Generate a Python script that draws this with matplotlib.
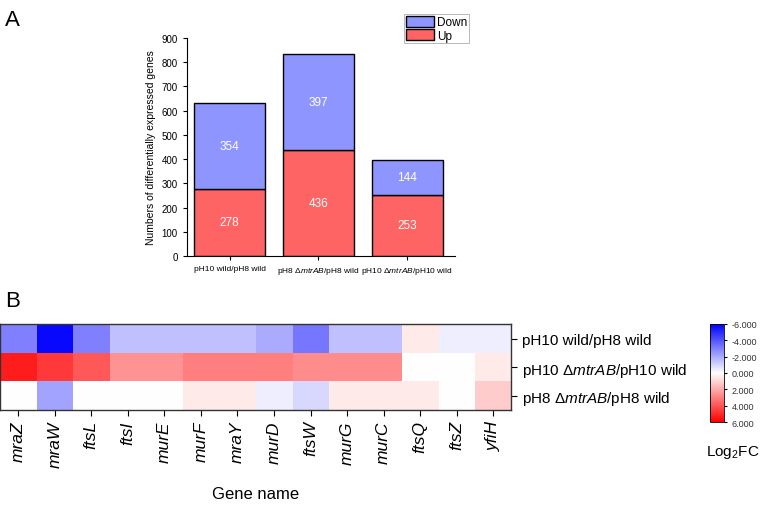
import numpy as np
import matplotlib.pyplot as plt

# Panel A data
comparisons = ['pH10 wild/pH8 wild',
               r'pH8 $\Delta\it{mtrAB}$/pH8 wild',
               r'pH10 $\Delta\it{mtrAB}$/pH10 wild']
up_counts = [278, 436, 253]
down_counts = [354, 397, 144]

# Panel B data (log2 fold change)
genes = ['mraZ', 'mraW', 'ftsL', 'ftsI', 'murE', 'murF', 'mraY',
         'murD', 'ftsW', 'murG', 'murC', 'ftsQ', 'ftsZ', 'yfiH']
row_labels = ['pH10 wild/pH8 wild',
              r'pH10 $\Delta\it{mtrAB}$/pH10 wild',
              r'pH8 $\Delta\it{mtrAB}$/pH8 wild']
fc_wild = [-3.0, -5.8, -3.0, -1.5, -1.5, -1.5, -1.5, -2.0, -3.2, -1.5, -1.5, 0.5, -0.4, -0.4]
fc_ph10_mut = [5.3, 4.6, 3.9, 2.5, 2.5, 3.0, 3.0, 3.0, 2.7, 2.7, 2.7, 0.0, 0.0, 0.5]
fc_ph8_mut = [0.0, -2.2, 0.0, 0.0, 0.0, 0.5, 0.5, -0.4, -0.9, 0.5, 0.5, 0.5, 0.0, 1.2]

plt.rcParams['font.family'] = ['Liberation Sans', 'DejaVu Sans']
plt.rcParams['mathtext.fontset'] = 'custom'
plt.rcParams['mathtext.rm'] = 'Liberation Sans'
plt.rcParams['mathtext.it'] = 'Liberation Sans:italic'
plt.rcParams['mathtext.bf'] = 'Liberation Sans:bold'

fig = plt.figure(figsize=(7.6, 5.06), dpi=100)

# ---- Panel A: stacked bars
ax1 = fig.add_axes([0.246, 0.492, 0.353, 0.431])
x = np.arange(len(comparisons))
up_color = '#ff6464'
down_color = '#8f95ff'
b_up = ax1.bar(x, up_counts, width=0.8, color=up_color, edgecolor='black', linewidth=1.0, label='Up')
b_down = ax1.bar(x, down_counts, width=0.8, bottom=up_counts, color=down_color,
                 edgecolor='black', linewidth=1.0, label='Down')
for i in range(len(x)):
    ax1.text(x[i], up_counts[i] / 2, str(up_counts[i]), ha='center', va='center',
             color='white', fontsize=8.5)
    ax1.text(x[i], up_counts[i] + down_counts[i] / 2, str(down_counts[i]), ha='center',
             va='center', color='white', fontsize=8.5)
ax1.set_xlim(-0.48, 2.54)
ax1.set_ylim(0, 900)
ax1.set_yticks(range(0, 901, 100))
ax1.set_xticks(x)
ax1.set_xticklabels(comparisons, fontsize=6)
ax1.tick_params(axis='y', labelsize=7, length=3)
ax1.tick_params(axis='x', length=3)
ax1.set_ylabel('Numbers of differentially expressed genes', fontsize=7.5)
ax1.spines['top'].set_visible(False)
ax1.spines['right'].set_visible(False)
leg = ax1.legend(handles=[b_down, b_up], loc='upper left', bbox_to_anchor=(0.81, 1.11),
                 fontsize=8.5, frameon=True, fancybox=False, borderpad=0.15,
                 handlelength=2.4, handleheight=1.1, handletextpad=0.2, labelspacing=0.05,
                 borderaxespad=0)
leg.get_frame().set_edgecolor('#999999')
leg.get_frame().set_linewidth(0.6)

fig.text(0.007, 0.96, 'A', fontsize=16, va='center')
fig.text(0.007, 0.405, 'B', fontsize=16, va='center')

# ---- Panel B: heatmap
ax2 = fig.add_axes([0.0, 0.188, 0.673, 0.169])
data = np.array([fc_wild, fc_ph10_mut, fc_ph8_mut])
im = ax2.imshow(data, cmap='bwr', vmin=-6, vmax=6, aspect='auto')
ax2.set_xticks(np.arange(len(genes)))
ax2.set_xticklabels(genes, rotation=90, fontstyle='italic', fontsize=12.5)
ax2.set_yticks(np.arange(len(row_labels)))
ax2.set_yticklabels(row_labels, fontsize=11)
ax2.yaxis.tick_right()
ax2.tick_params(axis='both', length=4, direction='out')
ax2.set_xlabel('Gene name', fontsize=12, labelpad=14)
for s in ax2.spines.values():
    s.set_linewidth(1.0)
    s.set_color('#333333')

cax = fig.add_axes([0.934, 0.164, 0.019, 0.194])
cb = fig.colorbar(im, cax=cax)
cb.set_ticks([-6, -4, -2, 0, 2, 4, 6])
cb.set_ticklabels(['-6.000', '-4.000', '-2.000', '0.000', '2.000', '4.000', '6.000'])
cb.ax.invert_yaxis()
cb.ax.tick_params(labelsize=6.5, length=2, labelcolor='#333333')
cb.outline.set_linewidth(0.6)
fig.text(0.964, 0.105, r'Log$_2$FC', fontsize=11, ha='center', va='center')

fig.savefig('out.png', dpi=100)
